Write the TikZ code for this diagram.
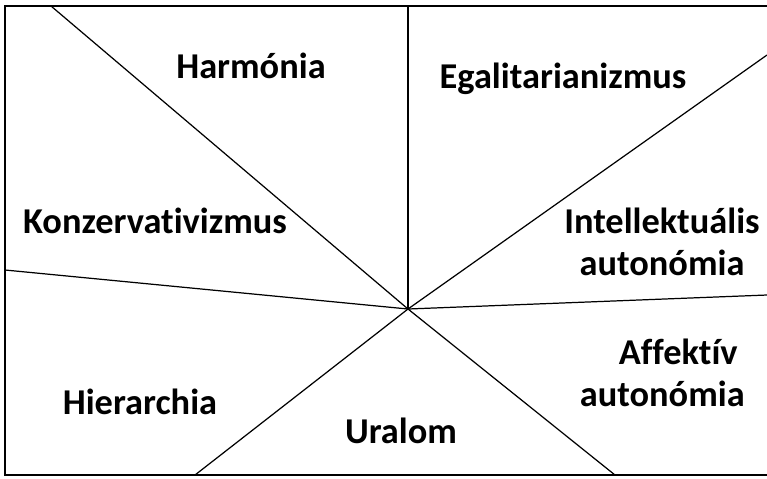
\documentclass[tikz,border=0pt]{standalone}
\usepackage{fontspec}
\setmainfont{Carlito}[Ligatures=NoCommon]
\usepackage{tikz}

\tikzset{
  cimke/.style={font=\bfseries\fontsize{20.7pt}{23.9pt}\selectfont,anchor=base,inner sep=0pt,align=center},
  valaszto/.style={line width=0.7pt,black}
}

\begin{document}
\begin{tikzpicture}[x=0.02cm,y=-0.02cm]

    % kep hatarai
    \useasboundingbox (0,0) rectangle (767,478);
    \clip (0,0) rectangle (767,478);

    % keret
    \draw[line width=1.1pt] (5,6) rectangle (775,475);

    % kozeppont es a valaszto vonalak vegpontjai
    \coordinate (kozep) at (408,309);
    \coordinate (balfent) at (51,6);
    \coordinate (fent) at (408,6);
    \coordinate (jobbfent) at (767,55);
    \coordinate (jobb) at (767,295);
    \coordinate (jobblent) at (615,475);
    \coordinate (ballent) at (195,475);
    \coordinate (bal) at (5,270);

    % valaszto vonalak
    \foreach \veg in {balfent,fent,jobbfent,jobb,jobblent,ballent,bal}
        \draw[valaszto] (kozep) -- (\veg);

    % ertekek
    \node[cimke] (harmonia) at (251,78) {Harmónia};
    \node[cimke] (egalitar) at (563,88) {Egalitarianizmus};
    \node[cimke] (konzerv) at (155,233) {Konzervativizmus};
    \node[cimke] (intellekt) at (662,275) {Intellektuális\\autonómia};
    \node[cimke,anchor=base east,align=right] (affektiv) at (745,406) {Affektív\hspace*{0.14cm}\\autonómia};
    \node[cimke] (hierarchia) at (140,414) {Hierarchia};
    \node[cimke] (uralom) at (401,443) {Uralom};

\end{tikzpicture}
\end{document}
